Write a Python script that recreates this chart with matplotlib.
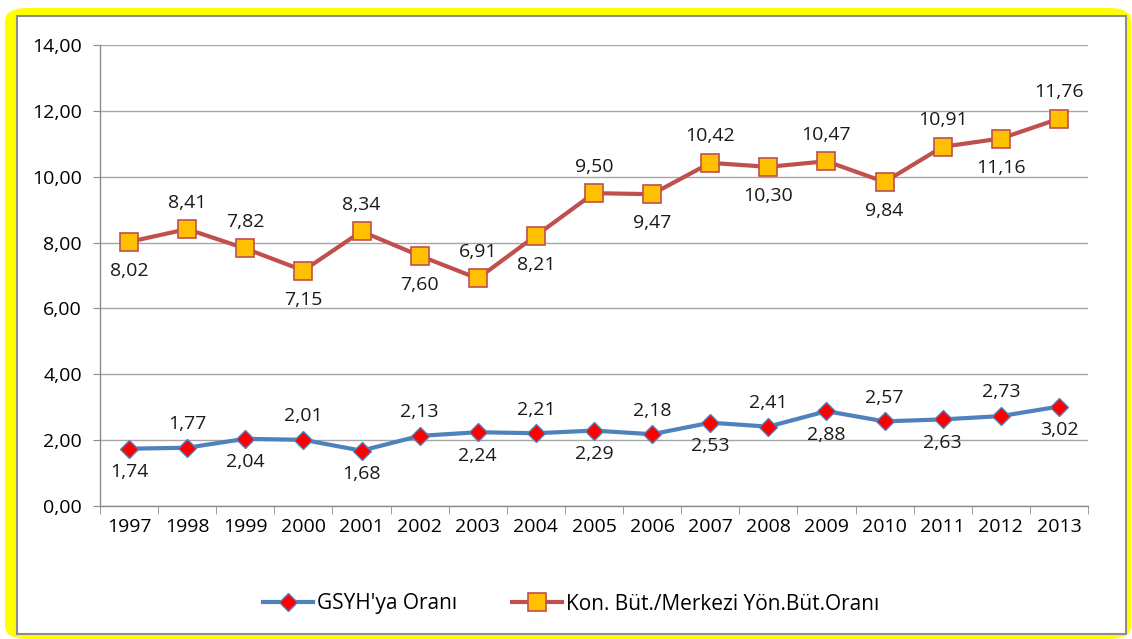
import matplotlib

matplotlib.use("Agg")
import matplotlib.pyplot as plt  # noqa: E402
from matplotlib.patches import FancyBboxPatch, Rectangle  # noqa: E402
from matplotlib.ticker import FixedLocator, FuncFormatter  # noqa: E402

years = [str(y) for y in range(1997, 2014)]
gsyh = [1.74, 1.77, 2.04, 2.01, 1.68, 2.13, 2.24, 2.21, 2.29, 2.18,
        2.53, 2.41, 2.88, 2.57, 2.63, 2.73, 3.02]
kon_but = [8.02, 8.41, 7.82, 7.15, 8.34, 7.60, 6.91, 8.21, 9.50, 9.47,
           10.42, 10.30, 10.47, 9.84, 10.91, 11.16, 11.76]
# label placement: True = above the marker
gsyh_above = [False, True, False, True, False, True, False, True, False,
              True, False, True, False, True, False, True, False]
kon_above = [False, True, True, False, True, False, True, False, True,
             False, True, False, True, False, True, False, True]

plt.rcParams["font.family"] = ["Open Sans", "DejaVu Sans"]

fig = plt.figure(figsize=(11.32, 6.39), dpi=100)

# yellow outer border and grey inner frame
fig.patches.append(FancyBboxPatch((5 / 1132, 0), 1126 / 1132, 631 / 639,
                                  boxstyle="round,pad=0,rounding_size=0.02",
                                  transform=fig.transFigure, facecolor="#FFFF00",
                                  edgecolor="none", zorder=0))
fig.patches.append(Rectangle((17 / 1132, 1 - 634 / 639), 1109 / 1132, 618 / 639,
                             transform=fig.transFigure, facecolor="white",
                             edgecolor="#8C8C8C", linewidth=1.5, zorder=1))

ax = fig.add_axes([100 / 1132, 1 - 506 / 639, 988 / 1132, 461 / 639])
ax.set_zorder(5)
ax.set_facecolor("none")
x = list(range(len(years)))

ax.plot(x, gsyh, color="#4F81BD", linewidth=3, marker="D", markersize=9,
        markerfacecolor="#FF0000", markeredgecolor="#4F81BD", markeredgewidth=1,
        label="GSYH'ya Oranı", zorder=3)
ax.plot(x, kon_but, color="#C0504D", linewidth=3, marker="s", markersize=12.5,
        markerfacecolor="#FFC000", markeredgecolor="#C0504D", markeredgewidth=1.2,
        label="Kon. Büt./Merkezi Yön.Büt.Oranı", zorder=3)

for xi, v, up in zip(x, gsyh, gsyh_above):
    ax.annotate(f"{v:.2f}".replace(".", ","), (xi, v),
                xytext=(0, 17 if up else -17), textcoords="offset points",
                ha="center", va="center", fontsize=14, color="#1a1a1a")
for xi, v, up in zip(x, kon_but, kon_above):
    ax.annotate(f"{v:.2f}".replace(".", ","), (xi, v),
                xytext=(0, 19 if up else -21), textcoords="offset points",
                ha="center", va="center", fontsize=14, color="#1a1a1a")

ax.set_xlim(-0.5, len(years) - 0.5)
ax.set_ylim(0, 14)
ax.set_yticks([0, 2, 4, 6, 8, 10, 12, 14])
ax.yaxis.set_major_formatter(FuncFormatter(lambda v, _: f"{v:.2f}".replace(".", ",")))
ax.set_xticks(x)
ax.set_xticklabels(years)
ax.xaxis.set_minor_locator(FixedLocator([i - 0.5 for i in range(len(years) + 1)]))
ax.tick_params(axis="x", which="major", length=0, labelsize=14, pad=9)
ax.tick_params(axis="x", which="minor", length=6, color="#8C8C8C")
ax.tick_params(axis="y", length=5, color="#8C8C8C", labelsize=14, pad=8)
ax.grid(axis="y", color="#A6A6A6", linewidth=1)
ax.set_axisbelow(True)
for side in ("top", "right"):
    ax.spines[side].set_visible(False)
for side in ("left", "bottom"):
    ax.spines[side].set_color("#8C8C8C")
    ax.spines[side].set_linewidth(1)

leg = fig.legend(loc="center", bbox_to_anchor=(571 / 1132, 1 - 604 / 639), ncol=2,
                 frameon=False, fontsize=15, handlelength=2.4, columnspacing=2.6,
                 handletextpad=0.2)
leg.set_zorder(6)

fig.savefig("out.png", dpi=100)
